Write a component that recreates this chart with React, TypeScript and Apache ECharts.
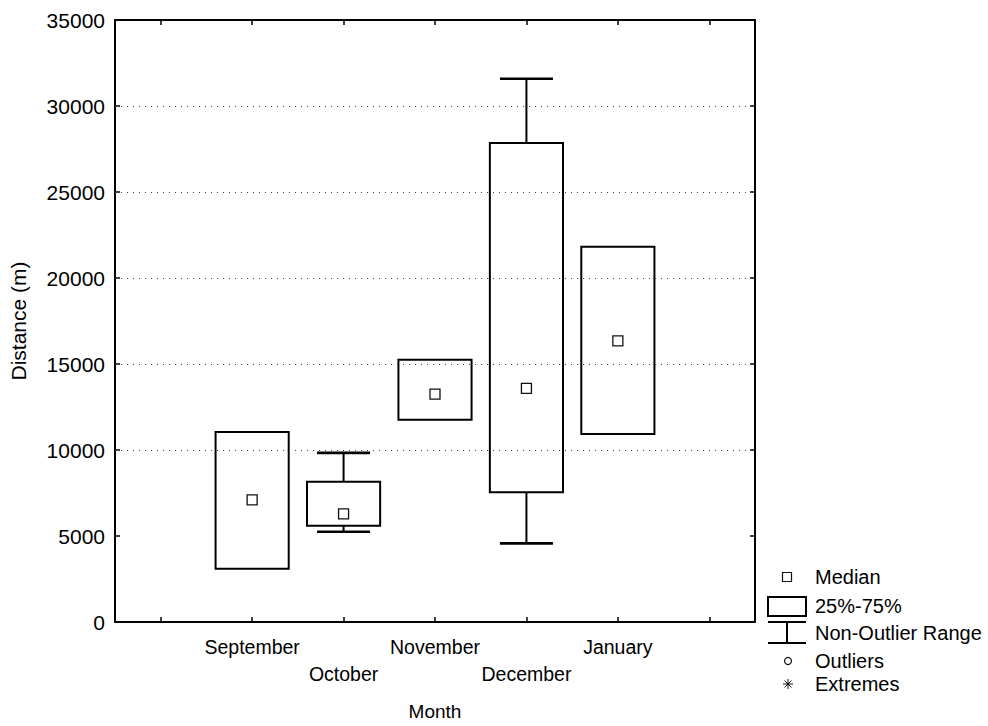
import React, { useEffect, useRef } from "react";
import * as echarts from "echarts";

const months = ["", "September", "October", "November", "December", "January", ""];
const boxIndex = [1, 2, 3, 4, 5];
const lowWhisker = [3100, 5250, 11760, 4570, 10930];
const q1 = [3100, 5600, 11760, 7550, 10930];
const median = [7100, 6290, 13250, 13580, 16340];
const q3 = [11050, 8150, 15240, 27850, 21820];
const highWhisker = [11050, 9830, 15240, 31580, 21820];
const gridValues = [10000, 15000, 20000, 25000, 30000];
const yMin = 0;
const yMax = 35000;
const yStep = 5000;

const FONT = '"Liberation Sans", Arial, Helvetica, sans-serif';

export default function App() {
  const ref = useRef<HTMLDivElement>(null);
  useEffect(() => {
    if (!ref.current) return;
    const chart = echarts.init(ref.current, undefined, { renderer: "svg" });
    const boxData = boxIndex.map((c, i) => [c, lowWhisker[i], q1[i], median[i], q3[i], highWhisker[i]]);
    const medData = boxIndex.map((c, i) => [c, median[i]]);
    const black = "#000";
    const legendText = (t: string, y: number) => ({
      type: "text",
      x: 815,
      y,
      style: { text: t, fill: "#000", fontSize: 20, fontFamily: FONT, verticalAlign: "middle", align: "left" },
    });
    const tick = { show: true, inside: true, alignWithLabel: true, interval: 0, length: 5, lineStyle: { color: black, width: 1.5 } };
    const option: any = {
      animation: false,
      backgroundColor: "#fff",
      grid: { left: 114, top: 20, width: 641, height: 603.5, containLabel: false },
      xAxis: [
        {
          type: "category",
          data: months,
          position: "bottom",
          boundaryGap: true,
          name: "Month",
          nameLocation: "middle",
          nameGap: 80,
          nameTextStyle: { color: "#000", fontSize: 19, fontFamily: FONT },
          axisLine: { show: true, onZero: false, lineStyle: { color: black, width: 2 } },
          axisTick: tick,
          axisLabel: {
            interval: 0,
            color: "#000",
            fontSize: 19.5,
            fontFamily: FONT,
            lineHeight: 27,
            margin: 11,
            formatter: (v: string, i: number) => (i % 2 === 0 && v ? "\n" + v : v),
          },
          splitLine: { show: false },
        },
        {
          type: "category",
          data: months,
          position: "top",
          boundaryGap: true,
          axisLine: { show: true, onZero: false, lineStyle: { color: black, width: 2 } },
          axisTick: tick,
          axisLabel: { show: false },
          splitLine: { show: false },
        },
      ],
      yAxis: [
        {
          type: "value",
          min: yMin,
          max: yMax,
          interval: yStep,
          position: "left",
          name: "Distance (m)",
          nameLocation: "middle",
          nameGap: 86,
          nameTextStyle: { color: "#000", fontSize: 21, fontFamily: FONT },
          axisLine: { show: true, onZero: false, lineStyle: { color: black, width: 2 } },
          axisTick: { show: true, inside: true, length: 5, lineStyle: { color: black, width: 1.5 } },
          axisLabel: { color: "#000", fontSize: 21, fontFamily: FONT, margin: 10, formatter: (v: number) => String(v) },
          splitLine: { show: false },
        },
        {
          type: "value",
          min: yMin,
          max: yMax,
          interval: yStep,
          position: "right",
          axisLine: { show: true, onZero: false, lineStyle: { color: black, width: 2 } },
          axisTick: { show: true, inside: true, length: 5, lineStyle: { color: black, width: 1.5 } },
          axisLabel: { show: false },
          splitLine: { show: false },
        },
      ],
      series: [
        {
          type: "line",
          data: [],
          z: 1,
          markLine: {
            silent: true,
            symbol: "none",
            label: { show: false },
            lineStyle: { color: "#444", width: 1, type: [1, 5] },
            data: gridValues.map((v) => ({ yAxis: v })),
          },
        },
        {
          type: "custom",
          z: 3,
          data: boxData,
          encode: { x: 0, y: [1, 2, 3, 4, 5] },
          renderItem: (params: any, api: any) => {
            const x = api.value(0);
            const lo = api.coord([x, api.value(1)]);
            const b1 = api.coord([x, api.value(2)]);
            const b3 = api.coord([x, api.value(4)]);
            const hi = api.coord([x, api.value(5)]);
            const band = api.size([1, 0])[0];
            const bw = band * 0.8;
            const cw = band * 0.58;
            const cx = lo[0];
            const children: any[] = [];
            const ls = { stroke: black, lineWidth: 2 };
            const cs = { stroke: black, lineWidth: 2.6 };
            if (api.value(5) > api.value(4)) {
              children.push({ type: "line", shape: { x1: cx, y1: hi[1], x2: cx, y2: b3[1] }, style: ls });
              children.push({ type: "line", shape: { x1: cx - cw / 2, y1: hi[1], x2: cx + cw / 2, y2: hi[1] }, style: cs });
            }
            if (api.value(1) < api.value(2)) {
              children.push({ type: "line", shape: { x1: cx, y1: b1[1], x2: cx, y2: lo[1] }, style: ls });
              children.push({ type: "line", shape: { x1: cx - cw / 2, y1: lo[1], x2: cx + cw / 2, y2: lo[1] }, style: cs });
            }
            children.push({
              type: "rect",
              shape: { x: cx - bw / 2, y: b3[1], width: bw, height: b1[1] - b3[1] },
              style: { fill: "#fff", stroke: black, lineWidth: 2 },
            });
            return { type: "group", children };
          },
        },
        {
          type: "scatter",
          z: 5,
          data: medData,
          symbol: "rect",
          symbolSize: 10,
          itemStyle: { color: "#fff", borderColor: "#111", borderWidth: 1.3, opacity: 1 },
        },
      ],
      graphic: [
        { type: "rect", shape: { x: 782.5, y: 572.5, width: 9, height: 9 }, style: { fill: "#fff", stroke: "#111", lineWidth: 1.2 } },
        legendText("Median", 577),
        { type: "rect", shape: { x: 768, y: 597, width: 38, height: 19 }, style: { fill: "#fff", stroke: black, lineWidth: 2 } },
        legendText("25%-75%", 606),
        { type: "line", shape: { x1: 768, y1: 622, x2: 806, y2: 622 }, style: { stroke: black, lineWidth: 2 } },
        { type: "line", shape: { x1: 787, y1: 622, x2: 787, y2: 643 }, style: { stroke: black, lineWidth: 2 } },
        { type: "line", shape: { x1: 768, y1: 643, x2: 806, y2: 643 }, style: { stroke: black, lineWidth: 2 } },
        legendText("Non-Outlier Range", 633),
        { type: "circle", shape: { cx: 788, cy: 661, r: 3.5 }, style: { fill: "#fff", stroke: "#111", lineWidth: 1.2 } },
        legendText("Outliers", 661),
        { type: "line", shape: { x1: 788, y1: 679, x2: 788, y2: 689 }, style: { stroke: "#111", lineWidth: 1 } },
        { type: "line", shape: { x1: 783, y1: 684, x2: 793, y2: 684 }, style: { stroke: "#111", lineWidth: 1 } },
        { type: "line", shape: { x1: 784.5, y1: 680.5, x2: 791.5, y2: 687.5 }, style: { stroke: "#111", lineWidth: 1 } },
        { type: "line", shape: { x1: 784.5, y1: 687.5, x2: 791.5, y2: 680.5 }, style: { stroke: "#111", lineWidth: 1 } },
        legendText("Extremes", 684),
      ],
    };
    chart.setOption(option);
    return () => chart.dispose();
  }, []);
  return <div ref={ref} style={{ position: "absolute", left: 0, top: 0, width: 988, height: 726 }} />;
}
